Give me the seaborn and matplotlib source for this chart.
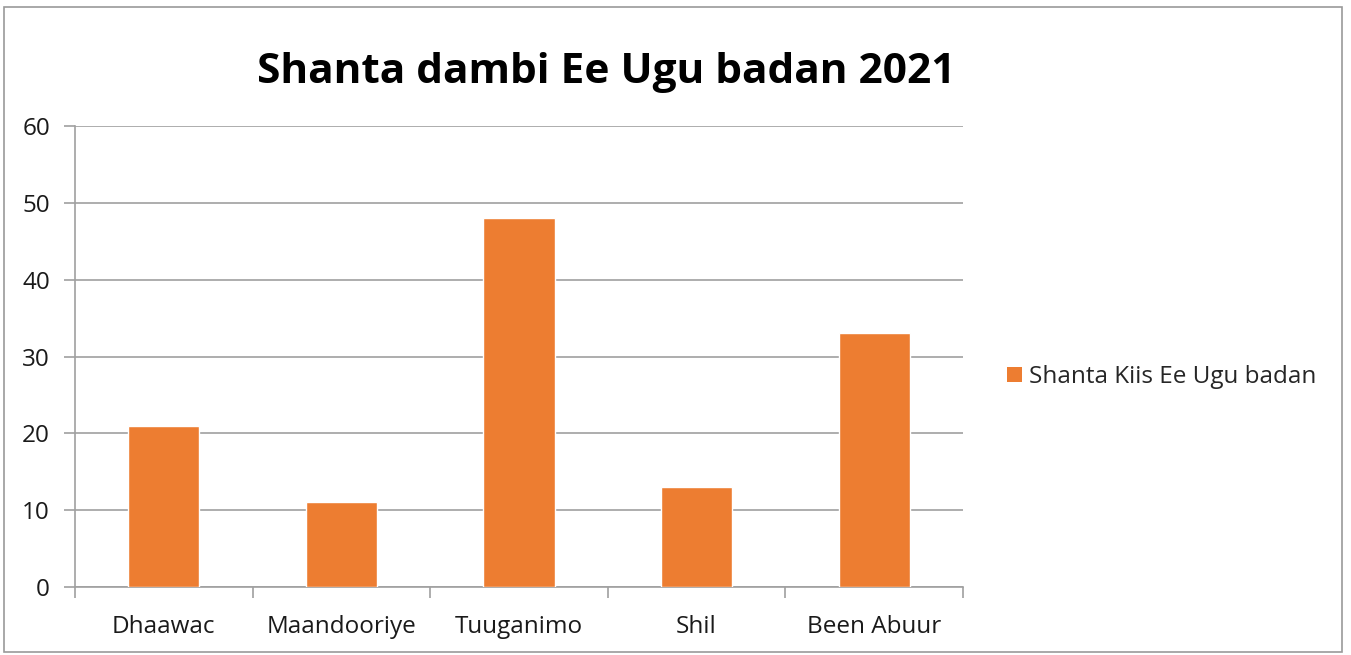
import matplotlib
matplotlib.use("Agg")
import matplotlib.pyplot as plt
import seaborn as sns
import pandas as pd
from matplotlib.patches import Rectangle, Patch

categories = ["Dhaawac", "Maandooriye", "Tuuganimo", "Shil", "Been Abuur"]
values = [21, 11, 48, 13, 33]
series_name = "Shanta Kiis Ee Ugu badan"
title = "Shanta dambi Ee Ugu badan 2021"

sns.set_theme(style="white")
plt.rcParams["font.family"] = ["Open Sans", "DejaVu Sans"]

df = pd.DataFrame({"cat": categories, "val": values})

fig = plt.figure(figsize=(13.51, 6.55), dpi=100)
ax = fig.add_axes([0.0555, 0.1038, 0.6573, 0.7038])

grid_col = "#a0a0a0"
sns.barplot(data=df, x="cat", y="val", color="#ED7D31", saturation=1,
            width=0.4, ax=ax, zorder=3)

ax.set_ylim(0, 60)
ax.set_xlim(-0.5, len(categories) - 0.5)
ax.set_yticks(range(0, 61, 10))
ax.yaxis.grid(True, color=grid_col, linewidth=1.2, zorder=0)
ax.set_axisbelow(True)
ax.set_xlabel("")
ax.set_ylabel("")

for s in ["top", "right"]:
    ax.spines[s].set_visible(False)
for s in ["left", "bottom"]:
    ax.spines[s].set_color(grid_col)
    ax.spines[s].set_linewidth(1.2)

ax.tick_params(axis="y", which="major", length=8, width=1.2, color=grid_col,
               labelsize=17.5, labelcolor="#1a1a1a", pad=10, left=True)
ax.tick_params(axis="x", which="major", length=0, labelsize=17.5,
               labelcolor="#1a1a1a", pad=20)
ax.set_xticks([i - 0.5 for i in range(len(categories) + 1)], minor=True)
ax.tick_params(axis="x", which="minor", length=8, width=1.2, color=grid_col,
               bottom=True)

fig.text(0.449, 0.889, title, ha="center", va="center", fontsize=30.5,
         fontweight="bold", color="black")

handle = Patch(facecolor="#ED7D31", edgecolor="none")
fig.legend([handle], [series_name], loc="center left",
           bbox_to_anchor=(0.7295, 0.424), frameon=False, fontsize=17.5,
           handlelength=0.6, handleheight=0.6, handletextpad=0.3)

fig.patches.append(Rectangle((0.003, 0.005), 0.990, 0.984, transform=fig.transFigure,
                             fill=False, edgecolor="#9a9a9a", linewidth=1.2))

fig.savefig("out.png", dpi=100)
